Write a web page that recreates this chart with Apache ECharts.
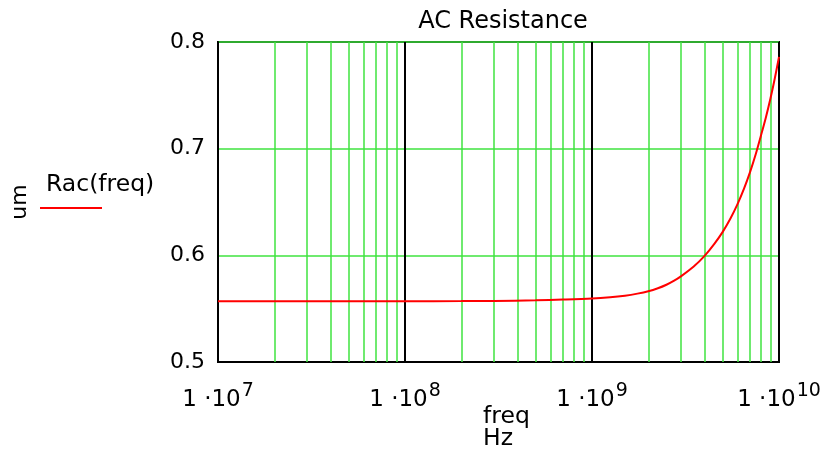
<!DOCTYPE html>
<html>
<head>
<meta charset="utf-8">
<script src="https://cdn.jsdelivr.net/npm/echarts@6/dist/echarts.min.js"></script>
<style>
    html, body { margin: 0; padding: 0; background: #fff; }
    #chart { width: 821px; height: 450px; }
</style>
</head>
<body>
<div id="chart"></div>
<script>
    // frequency points (Hz) and Rac values (um)
    let freq = [1e7, 3e7, 1e8, 2e8, 3e8, 5e8, 7e8, 1e9, 1.25e9, 1.5e9, 1.75e9, 2e9, 2.25e9, 2.5e9, 2.75e9, 3e9, 3.5e9, 4e9,
        4.5e9, 5e9, 5.5e9, 6e9, 6.5e9, 7e9, 7.5e9, 8e9, 8.5e9, 9e9, 9.5e9, 1e10];
    let rac = [0.557, 0.557, 0.557, 0.5571, 0.5573, 0.5578, 0.5585, 0.5595, 0.5607, 0.5622, 0.5641, 0.5663, 0.5691, 0.5724,
        0.5762, 0.5805, 0.5895, 0.5995, 0.6105, 0.622, 0.6345, 0.648, 0.6625, 0.678, 0.6945, 0.712, 0.729, 0.747, 0.766, 0.786];
    // minor grid positions 2..9 of every decade
    let minorGrid = [2e7, 3e7, 4e7, 5e7, 6e7, 7e7, 8e7, 9e7,
        2e8, 3e8, 4e8, 5e8, 6e8, 7e8, 8e8, 9e8,
        2e9, 3e9, 4e9, 5e9, 6e9, 7e9, 8e9, 9e9];
    let yTicks = [0.5, 0.6, 0.7, 0.8];

    let font = 'DejaVu Sans, sans-serif';
    let green = '#3fe33f';
    let myChart = echarts.init(document.getElementById('chart'));

    let option = {
        animation: false,
        textStyle: { fontFamily: font },
        title: {
            text: 'AC Resistance',
            left: 498,
            top: 5,
            textAlign: 'center',
            textStyle: { fontSize: 24, fontWeight: 'normal', color: '#000', fontFamily: font }
        },
        grid: {
            left: 218, right: 42, top: 42, bottom: 88,
            outerBoundsMode: 'none',
            containLabel: false,
            show: true, borderColor: '#000', borderWidth: 2, backgroundColor: 'transparent'
        },
        xAxis: {
            type: 'log',
            logBase: 10,
            min: freq[0],
            max: freq[freq.length - 1],
            splitNumber: 3,
            axisLine: { show: true, lineStyle: { color: '#000', width: 2 } },
            axisTick: { show: false },
            splitLine: { show: true, lineStyle: { color: '#000', width: 2 } },
            axisLabel: {
                margin: 20,
                formatter: function (v) {
                    return '{a|1 \u00b710}{s|' + Math.round(Math.log10(v)) + '}';
                },
                rich: {
                    a: { fontSize: 23, color: '#000', fontFamily: font },
                    s: { fontSize: 19, color: '#000', fontFamily: font, padding: [0, 0, 18, 1] }
                }
            }
        },
        yAxis: {
            type: 'value',
            min: 0.5,
            max: 0.8,
            interval: 0.1,
            name: 'um',
            nameLocation: 'middle',
            nameRotate: 90,
            nameGap: 187,
            nameTextStyle: { fontSize: 22, color: '#000', fontFamily: font },
            axisLine: { show: true, lineStyle: { color: '#000', width: 2 } },
            axisTick: { show: false },
            splitLine: { show: true, lineStyle: { color: green, width: 1.5 } },
            axisLabel: {
                margin: 13,
                fontSize: 22,
                color: '#000',
                fontFamily: font,
                formatter: function (v) {
                    return yTicks.indexOf(Math.round(v * 10) / 10) >= 0 ? v.toFixed(1) : '';
                }
            }
        },
        graphic: [
            { type: 'text', left: 46, top: 173, style: { text: 'Rac(freq)', fontSize: 23.5, fill: '#000', fontFamily: font } },
            { type: 'line', shape: { x1: 40, y1: 208, x2: 102, y2: 208 }, style: { stroke: '#ff0000', lineWidth: 2 } },
            { type: 'text', left: 483, top: 405, style: { text: 'freq', fontSize: 23.5, fill: '#000', fontFamily: font } },
            { type: 'text', left: 483, top: 427, style: { text: 'Hz', fontSize: 23.5, fill: '#000', fontFamily: font } }
        ],
        series: [
            {
                name: 'minor',
                type: 'line',
                data: [],
                z: 1,
                markLine: {
                    silent: true,
                    symbol: ['none', 'none'],
                    label: { show: false },
                    lineStyle: { color: green, width: 1.5, type: 'solid' },
                    data: minorGrid.map(function (v) { return { xAxis: v }; })
                }
            },
            {
                name: 'Rac(freq)',
                type: 'line',
                z: 5,
                symbol: 'none',
                smooth: 0.3,
                lineStyle: { color: '#ff0000', width: 2 },
                data: freq.map(function (f, i) { return [f, rac[i]]; })
            }
        ]
    };
    myChart.setOption(option);
</script>
</body>
</html>
